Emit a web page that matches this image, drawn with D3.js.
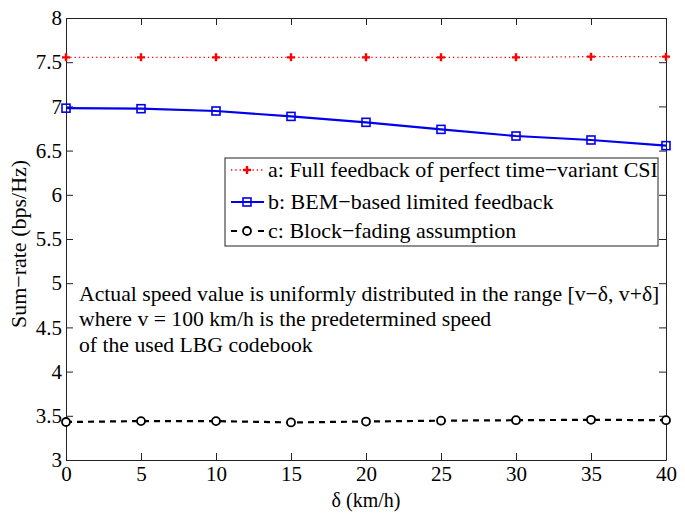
<!DOCTYPE html>
<html><head><meta charset="utf-8">
<script src="https://cdn.jsdelivr.net/npm/d3@7"></script>
<style>body{margin:0;background:#fff}svg{display:block}text{font-family:"Liberation Serif","Times New Roman",serif}</style>
</head><body><svg id="c" width="685" height="516"></svg>
<script>
const deltas = [0,5,10,15,20,25,30,35,40];
const seriesA = [7.555,7.555,7.555,7.555,7.555,7.555,7.555,7.563,7.563];
const seriesB = [6.98,6.974,6.948,6.887,6.82,6.74,6.665,6.62,6.556];
const seriesC = [3.43,3.44,3.44,3.425,3.435,3.445,3.45,3.455,3.45];
const xTicks = [0,5,10,15,20,25,30,35,40];
const yTicks = [3,3.5,4,4.5,5,5.5,6,6.5,7,7.5,8];
const legendLabels = ["a: Full feedback of perfect time\u2212variant CSI","b: BEM\u2212based limited feedback","c: Block\u2212fading assumption"];
const noteLines = ["Actual speed value is uniformly distributed in the range [v\u2212\u03b4, v+\u03b4]","where v = 100 km/h is the predetermined speed","of the used LBG codebook"];

const svg = d3.select("#c");
const L=66,R=666,T=18,B=460;
const x = d3.scaleLinear().domain([0,40]).range([L,R]);
const y = d3.scaleLinear().domain([3,8]).range([B,T]);
const fmt = d=>String(d);

// axes
svg.append("g").attr("transform",`translate(0,${B})`).call(d3.axisBottom(x).tickValues(xTicks).tickSizeInner(-7).tickSizeOuter(0).tickPadding(6).tickFormat(fmt));
svg.append("g").attr("transform",`translate(0,${T})`).call(d3.axisTop(x).tickValues(xTicks).tickSizeInner(-7).tickSizeOuter(0).tickFormat(""));
svg.append("g").attr("transform",`translate(${L},0)`).call(d3.axisLeft(y).tickValues(yTicks).tickSizeInner(-7).tickSizeOuter(0).tickPadding(4).tickFormat(fmt));
svg.append("g").attr("transform",`translate(${R},0)`).call(d3.axisRight(y).tickValues(yTicks).tickSizeInner(-7).tickSizeOuter(0).tickFormat(""));
svg.selectAll(".domain").attr("stroke","#222").attr("stroke-width",1);
svg.selectAll(".tick line").attr("stroke","#222");
svg.selectAll(".tick text").attr("font-size",21).attr("fill","#000").attr("font-family","Liberation Serif");

// labels
svg.append("text").attr("x",(L+R)/2).attr("y",507).attr("text-anchor","middle").attr("font-size",20).text("\u03b4 (km/h)");
svg.append("text").attr("transform","translate(26,244) rotate(-90)").attr("text-anchor","middle").attr("font-size",22).text("Sum\u2212rate (bps/Hz)");

const line = d3.line().x((d,i)=>x(deltas[i])).y(d=>y(d));
// series A red dotted with plus
svg.append("path").datum(seriesA).attr("d",line).attr("fill","none").attr("stroke","#ff0000").attr("stroke-width",1.3).attr("stroke-dasharray","1.3,3");
function plus(g,cx,cy,s,col){g.append("path").attr("d",`M${cx-s},${cy}H${cx+s}M${cx},${cy-s}V${cy+s}`).attr("stroke",col).attr("stroke-width",2.4);}
const gA=svg.append("g");
seriesA.forEach((v,i)=>plus(gA,x(deltas[i]),y(v),4,"#ff0000"));
// series B blue
svg.append("path").datum(seriesB).attr("d",line).attr("fill","none").attr("stroke","#0000ee").attr("stroke-width",2.2);
svg.append("g").selectAll("rect").data(seriesB).join("rect")
 .attr("x",(d,i)=>x(deltas[i])-4).attr("y",d=>y(d)-4).attr("width",8).attr("height",8)
 .attr("fill","none").attr("stroke","#0000ee").attr("stroke-width",1.6);
// series C black dashed circles
svg.append("path").datum(seriesC).attr("d",line).attr("fill","none").attr("stroke","#000").attr("stroke-width",2.2).attr("stroke-dasharray","6,5");
svg.append("g").selectAll("circle").data(seriesC).join("circle")
 .attr("cx",(d,i)=>x(deltas[i])).attr("cy",d=>y(d)).attr("r",4)
 .attr("fill","#fff").attr("stroke","#000").attr("stroke-width",1.8);

// legend
const lg = svg.append("g");
lg.append("rect").attr("x",225).attr("y",158).attr("width",433).attr("height",88).attr("fill","#fff").attr("stroke","#222").attr("stroke-width",1);
const ly=[170,202,231];
legendLabels.forEach((t,i)=>{
  lg.append("text").attr("x",268).attr("y",ly[i]+7).attr("font-size",22).text(t);
});
lg.append("line").attr("x1",231).attr("x2",264).attr("y1",ly[0]).attr("y2",ly[0]).attr("stroke","#ff0000").attr("stroke-width",1.3).attr("stroke-dasharray","1.3,3");
plus(lg,247,ly[0],4,"#ff0000");
lg.append("line").attr("x1",231).attr("x2",264).attr("y1",ly[1]).attr("y2",ly[1]).attr("stroke","#0000ee").attr("stroke-width",2.2);
lg.append("rect").attr("x",243).attr("y",ly[1]-4).attr("width",8).attr("height",8).attr("fill","none").attr("stroke","#0000ee").attr("stroke-width",1.6);
lg.append("line").attr("x1",231).attr("x2",264).attr("y1",ly[2]).attr("y2",ly[2]).attr("stroke","#000").attr("stroke-width",2.2).attr("stroke-dasharray","6,7.5");
lg.append("circle").attr("cx",247).attr("cy",ly[2]).attr("r",4).attr("fill","#fff").attr("stroke","#000").attr("stroke-width",1.8);

// note
noteLines.forEach((t,i)=>{
  svg.append("text").attr("x",79).attr("y",301+i*25.3).attr("font-size",21.7).text(t);
});
</script></body></html>
